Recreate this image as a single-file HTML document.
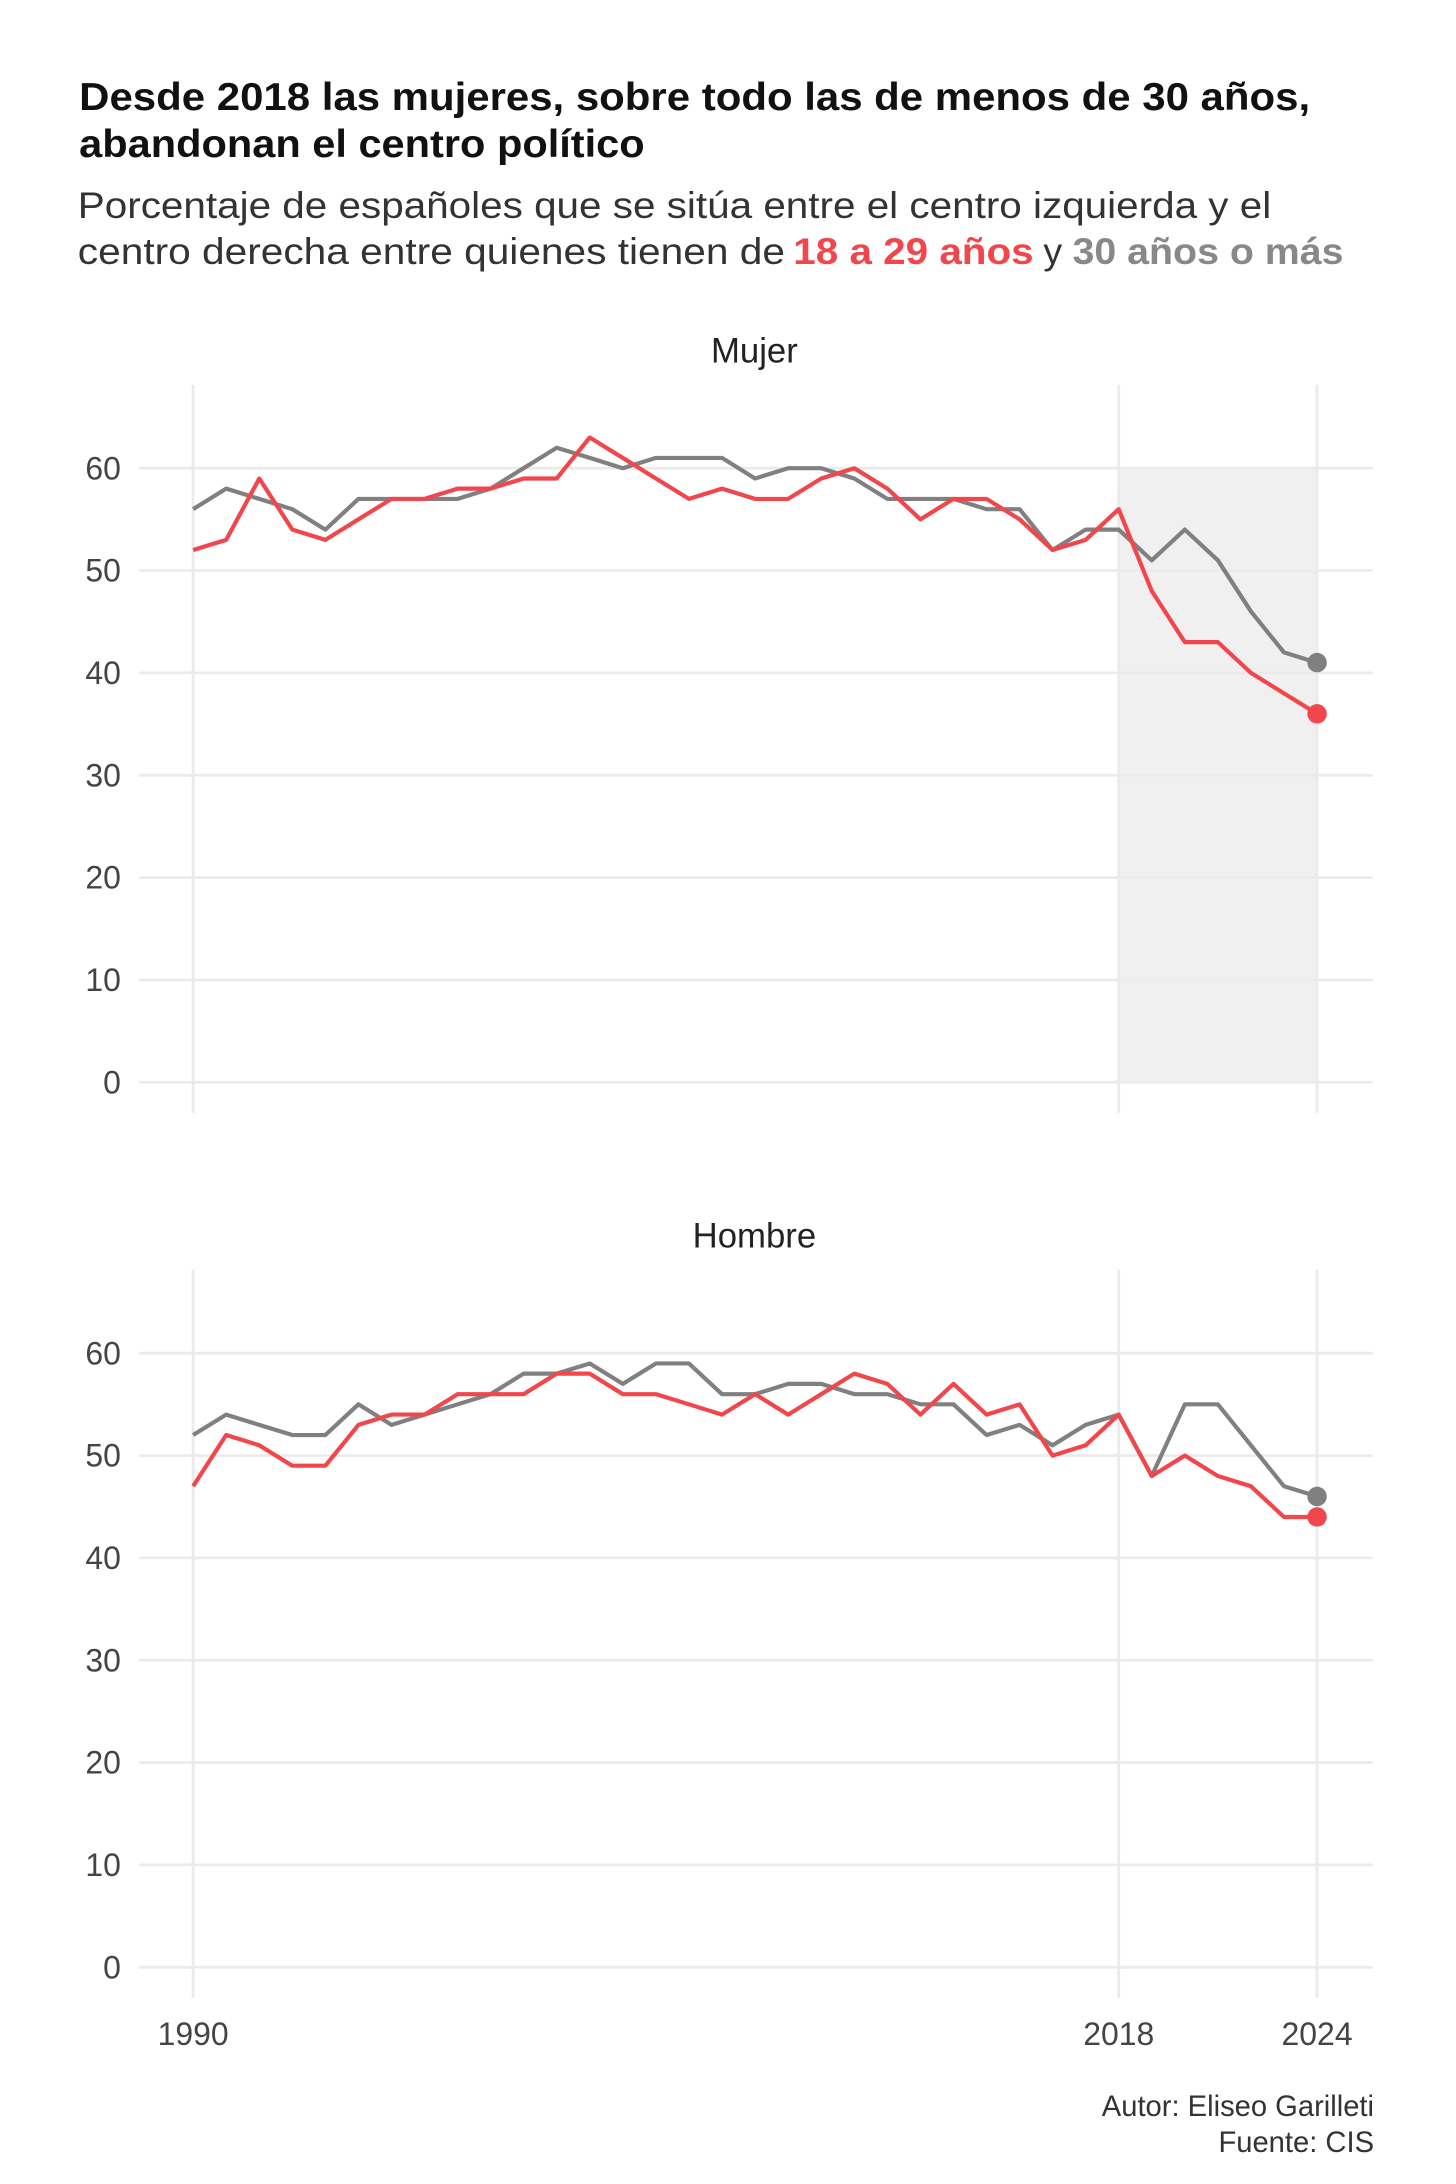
<!DOCTYPE html>
<html><head><meta charset="utf-8"><style>html,body{margin:0;padding:0;background:#fff}svg{display:block}</style></head>
<body>
<svg id="chart" xmlns="http://www.w3.org/2000/svg" width="1456" height="2184" viewBox="0 0 1048 1572" font-family="'Liberation Sans', sans-serif">
<rect width="1048" height="1572" fill="#fff"/>
<text x="57" y="79" font-size="28" font-weight="bold" fill="#111" textLength="886" lengthAdjust="spacingAndGlyphs">Desde 2018 las mujeres, sobre todo las de menos de 30 años,</text>
<text x="57" y="113" font-size="28" font-weight="bold" fill="#111" textLength="407" lengthAdjust="spacingAndGlyphs">abandonan el centro político</text>
<text x="56" y="157" font-size="27" fill="#333" textLength="859" lengthAdjust="spacingAndGlyphs">Porcentaje de españoles que se sitúa entre el centro izquierda  y el</text>
<text x="56" y="190" font-size="27" fill="#333" textLength="509" lengthAdjust="spacingAndGlyphs">centro derecha entre quienes tienen de</text>
<text x="571" y="190" font-size="27" font-weight="bold" fill="#f2464d" textLength="173" lengthAdjust="spacingAndGlyphs">18 a 29 años</text>
<text x="751" y="190" font-size="27" fill="#333">y</text>
<text x="772" y="190" font-size="27" font-weight="bold" fill="#888" textLength="195" lengthAdjust="spacingAndGlyphs">30 años o más</text>
<g id="panels"></g>
<text x="989" y="1523" font-size="21" fill="#333" text-anchor="end">Autor: Eliseo Garilleti</text>
<text x="989" y="1549" font-size="21" fill="#333" text-anchor="end">Fuente: CIS</text>
</svg>
<script>
const years = [];
for (let y = 1990; y <= 2024; y++) years.push(y);
const yTicks = [0, 10, 20, 30, 40, 50, 60];
const xTicks = [1990, 2018, 2024];
const mujer30 = [56,58,57,56,54,57,57,57,57,58,60,62,61,60,61,61,61,59,60,60,59,57,57,57,56,56,52,54,54,51,54,51,46,42,41];
const mujer18 = [52,53,59,54,53,55,57,57,58,58,59,59,63,61,59,57,58,57,57,59,60,58,55,57,57,55,52,53,56,48,43,43,40,38,36];
const hombre30 = [52,54,53,52,52,55,53,54,55,56,58,58,59,57,59,59,56,56,57,57,56,56,55,55,52,53,51,53,54,48,55,55,51,47,46];
const hombre18 = [47,52,51,49,49,53,54,54,56,56,56,58,58,56,56,55,54,56,54,56,58,57,54,57,54,55,50,51,54,48,50,48,47,44,44];

const NS = 'http://www.w3.org/2000/svg';
const root = document.getElementById('panels');
function mk(tag, attrs, parent) {
  const e = document.createElementNS(NS, tag);
  for (const k in attrs) e.setAttribute(k, attrs[k]);
  parent.appendChild(e);
  return e;
}
const xScale = y => 139 + (y - 1990) * (948 - 139) / 34;

function panel(name, label, y0, s30, s18, shade) {
  const yScale = v => y0 - v * 442 / 60;
  const g = mk('g', {}, root);
  
  
  const t = mk('text', {x: 543, y: y0 - 518, 'font-size': 25, fill: '#222', 'text-anchor': 'middle'}, g);
  t.textContent = label;
  
  
  if (shade) {
    const r = mk('rect', {x: xScale(2018), y: yScale(60), width: xScale(2024) - xScale(2018), height: yScale(0) - yScale(60), fill: '#f0f0f0'}, g);
    
    
  }
  yTicks.forEach(v => {
    const l = mk('line', {x1: 100, x2: 988, y1: yScale(v), y2: yScale(v), stroke: '#ebebeb', 'stroke-width': 2}, g);
    
    
    const tx = mk('text', {x: 87, y: yScale(v) + 8, 'font-size': 23, fill: '#444', 'text-anchor': 'end'}, g);
    tx.textContent = v;
    
    
  });
  xTicks.forEach(v => {
    const l = mk('line', {x1: xScale(v), x2: xScale(v), y1: y0 - 502, y2: y0 + 22, stroke: '#ebebeb', 'stroke-width': 2}, g);
    
    
  });
  [[s30, '#808080', '30-plus'], [s18, '#f2464d', '18-29']].forEach(([s, c, n]) => {
    const d = s.map((v, i) => (i ? 'L' : 'M') + xScale(years[i]).toFixed(1) + ',' + yScale(v).toFixed(1)).join('');
    const p = mk('path', {d: d, fill: 'none', stroke: c, 'stroke-width': 3, 'stroke-linejoin': 'round'}, g);
    
    
    const last = s.length - 1;
    const dot = mk('circle', {cx: xScale(years[last]), cy: yScale(s[last]), r: 7, fill: c}, g);
    
    
  });
}
panel('mujer', 'Mujer', 779, mujer30, mujer18, true);
panel('hombre', 'Hombre', 1416, hombre30, hombre18, false);
xTicks.forEach(v => {
  const tx = mk('text', {x: xScale(v), y: 1472, 'font-size': 23, fill: '#444', 'text-anchor': 'middle'}, root);
  tx.textContent = v;
  
  
});
</script>
</body></html>
